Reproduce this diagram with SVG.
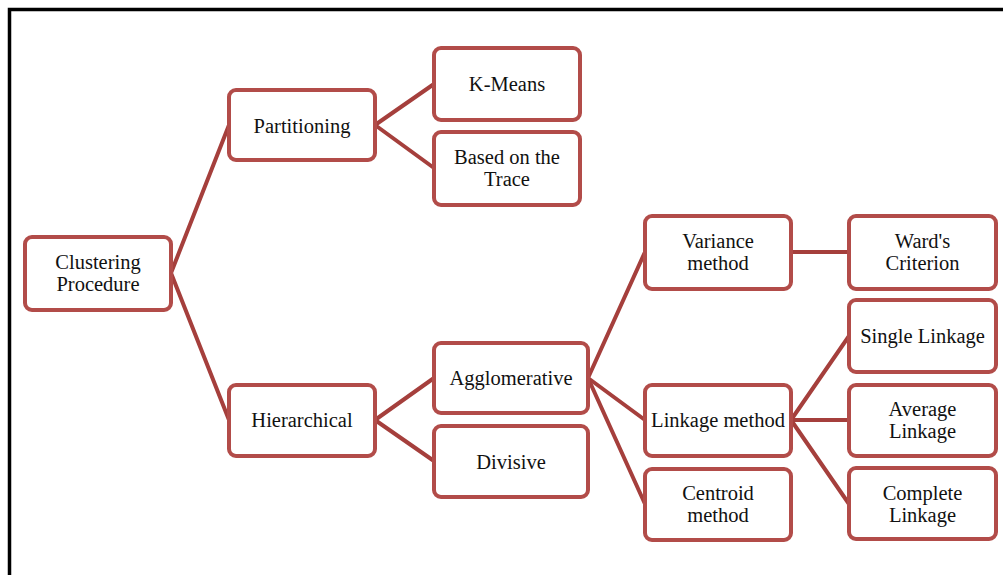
<svg xmlns="http://www.w3.org/2000/svg" width="1003" height="575" viewBox="0 0 1003 575">
<style>
.box{fill:#fff;stroke:#b24c49;stroke-width:4;}
.lbl{font-family:"Liberation Serif","Times New Roman",serif;font-size:20.5px;fill:#111;text-anchor:middle;}
.conn{stroke:#a53f3c;stroke-width:4;fill:none;stroke-linecap:round;}
</style>
<rect width="1003" height="575" fill="#fff"/>
<path d="M9.5,575 V9.5 H1003" fill="none" stroke="#000" stroke-width="3.5"/>
<g id="connectors">
<line class="conn" x1="171" y1="273" x2="229" y2="125"/>
<line class="conn" x1="171" y1="273" x2="229" y2="420"/>
<line class="conn" x1="375" y1="125" x2="434" y2="84"/>
<line class="conn" x1="375" y1="125" x2="434" y2="168"/>
<line class="conn" x1="375" y1="420" x2="434" y2="378"/>
<line class="conn" x1="375" y1="420" x2="434" y2="461"/>
<line class="conn" x1="588" y1="378" x2="645" y2="252"/>
<line class="conn" x1="588" y1="378" x2="645" y2="420"/>
<line class="conn" x1="588" y1="378" x2="645" y2="504"/>
<line class="conn" x1="791" y1="252" x2="849" y2="252"/>
<line class="conn" x1="791" y1="420" x2="849" y2="336"/>
<line class="conn" x1="791" y1="420" x2="849" y2="420"/>
<line class="conn" x1="791" y1="420" x2="849" y2="504"/>
</g>
<g id="clustering"><rect class="box" x="25" y="237" width="146" height="73" rx="7"/><text class="lbl" x="98" y="268.5">Clustering</text><text class="lbl" x="98" y="290.5">Procedure</text></g>
<g id="partitioning"><rect class="box" x="229" y="90" width="146" height="70" rx="7"/><text class="lbl" x="302" y="132.5">Partitioning</text></g>
<g id="hierarchical"><rect class="box" x="229" y="385" width="146" height="71" rx="7"/><text class="lbl" x="302" y="427">Hierarchical</text></g>
<g id="kmeans"><rect class="box" x="434" y="48" width="146" height="72" rx="7"/><text class="lbl" x="507" y="91">K-Means</text></g>
<g id="trace"><rect class="box" x="434" y="132" width="146" height="73" rx="7"/><text class="lbl" x="507" y="163.5">Based on the</text><text class="lbl" x="507" y="185.5">Trace</text></g>
<g id="agglomerative"><rect class="box" x="434" y="343" width="154" height="70" rx="7"/><text class="lbl" x="511" y="385">Agglomerative</text></g>
<g id="divisive"><rect class="box" x="434" y="426" width="154" height="71" rx="7"/><text class="lbl" x="511" y="468.5">Divisive</text></g>
<g id="variance"><rect class="box" x="645" y="216" width="146" height="73" rx="7"/><text class="lbl" x="718" y="247.5">Variance</text><text class="lbl" x="718" y="269.5">method</text></g>
<g id="linkage"><rect class="box" x="645" y="385" width="146" height="71" rx="7"/><text class="lbl" x="718" y="427">Linkage method</text></g>
<g id="centroid"><rect class="box" x="645" y="469" width="146" height="71" rx="7"/><text class="lbl" x="718" y="499.5">Centroid</text><text class="lbl" x="718" y="521.5">method</text></g>
<g id="wards"><rect class="box" x="849" y="216" width="147" height="73" rx="7"/><text class="lbl" x="922.5" y="247.5">Ward's</text><text class="lbl" x="922.5" y="269.5">Criterion</text></g>
<g id="single"><rect class="box" x="849" y="300" width="147" height="72" rx="7"/><text class="lbl" x="922.5" y="343">Single Linkage</text></g>
<g id="average"><rect class="box" x="849" y="385" width="147" height="71" rx="7"/><text class="lbl" x="922.5" y="415.5">Average</text><text class="lbl" x="922.5" y="437.5">Linkage</text></g>
<g id="complete"><rect class="box" x="849" y="468" width="147" height="71" rx="7"/><text class="lbl" x="922.5" y="499.5">Complete</text><text class="lbl" x="922.5" y="521.5">Linkage</text></g>
</svg>
